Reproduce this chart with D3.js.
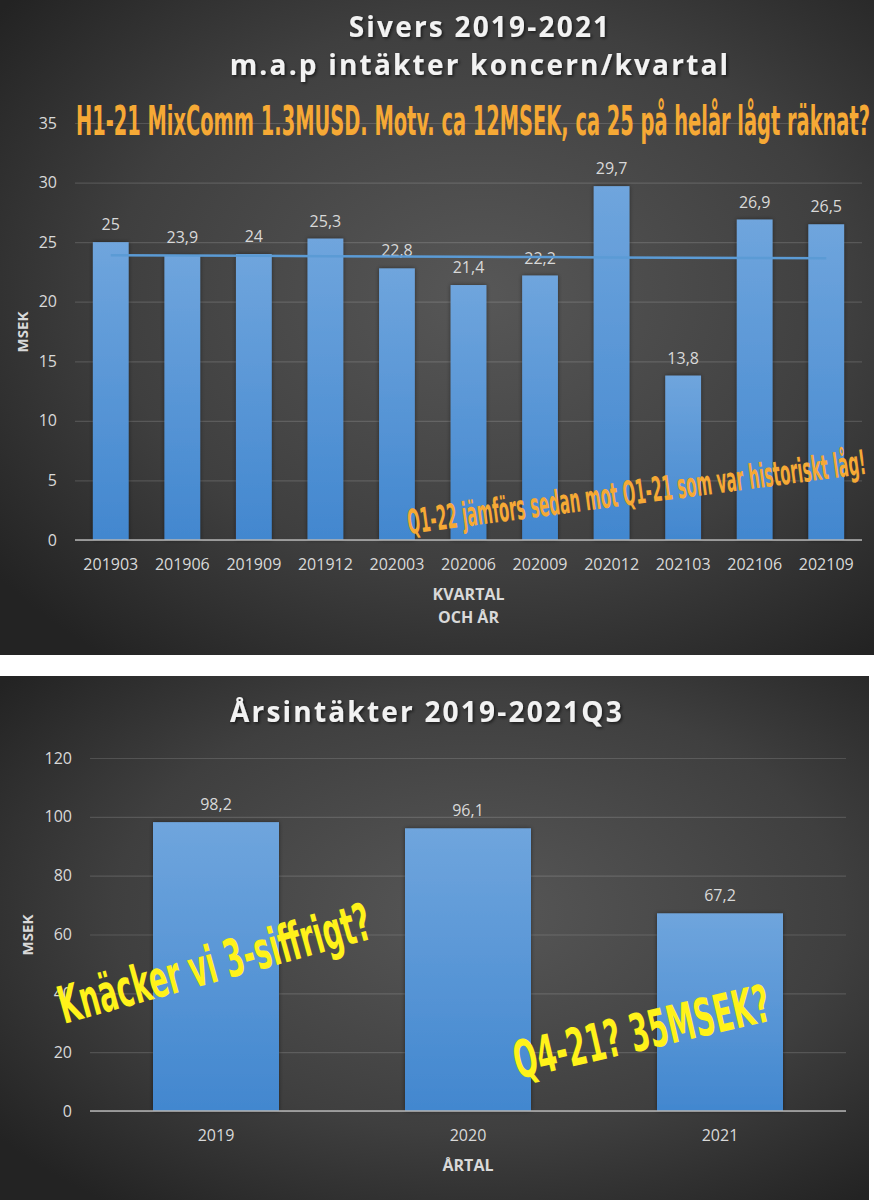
<!DOCTYPE html>
<html>
<head>
<meta charset="utf-8">
<script src="https://cdn.jsdelivr.net/npm/d3@7"></script>
<style>
  html, body { margin: 0; padding: 0; background: #fff; }
  svg { display: block; }
</style>
</head>
<body>
<script>
const width = 874;
const height = 1200;

// quarterly revenue, MSEK
const quarters = ['201903', '201906', '201909', '201912', '202003', '202006', '202009', '202012', '202103', '202106', '202109'];
const quarterValues = [25, 23.9, 24, 25.3, 22.8, 21.4, 22.2, 29.7, 13.8, 26.9, 26.5];
const quarterTicks = [0, 5, 10, 15, 20, 25, 30, 35];

// yearly revenue, MSEK
const years = ['2019', '2020', '2021'];
const yearValues = [98.2, 96.1, 67.2];
const yearTicks = [0, 20, 40, 60, 80, 100, 120];

const sv = d3.formatLocale({ decimal: ',', thousands: ' ', grouping: [3], currency: ['', ' kr'] });
const fmt = v => sv.format(',')(v);

const labelFont = '"Open Sans", "DejaVu Sans", sans-serif';
const scribbleFont = '"Liberation Sans Narrow", "DejaVu Sans Condensed", "Liberation Sans", sans-serif';
const textColor = '#d9d9d9';

const svg = d3.select('body')
  .append('svg')
  .attr('width', width)
  .attr('height', height)
  .attr('viewBox', [0, 0, width, height]);

const defs = svg.append('defs');

const bg = defs.append('radialGradient')
  .attr('id', 'bg')
  .attr('cx', '55%').attr('cy', '45%').attr('r', '70%');
bg.append('stop').attr('offset', '0%').attr('stop-color', '#575757');
bg.append('stop').attr('offset', '60%').attr('stop-color', '#3f3f3f');
bg.append('stop').attr('offset', '100%').attr('stop-color', '#232323');

const barFill = defs.append('linearGradient')
  .attr('id', 'bar')
  .attr('x1', 0).attr('y1', 0).attr('x2', 0).attr('y2', 1);
barFill.append('stop').attr('offset', '0%').attr('stop-color', '#6fa5dd');
barFill.append('stop').attr('offset', '100%').attr('stop-color', '#4287cf');

defs.append('filter')
  .attr('id', 'shadow')
  .attr('x', '-20%').attr('y', '-20%').attr('width', '140%').attr('height', '140%')
  .append('feDropShadow')
  .attr('dx', 1.5).attr('dy', 1.5).attr('stdDeviation', 1.5)
  .attr('flood-color', '#000').attr('flood-opacity', 0.6);

defs.append('filter')
  .attr('id', 'barShadow')
  .attr('x', '-20%').attr('y', '-5%').attr('width', '140%').attr('height', '110%')
  .append('feDropShadow')
  .attr('dx', 0).attr('dy', 0).attr('stdDeviation', 2)
  .attr('flood-color', '#000').attr('flood-opacity', 0.45);

// panels
svg.append('rect').attr('x', 0).attr('y', 0).attr('width', 874).attr('height', 655).attr('fill', 'url(#bg)');
svg.append('rect').attr('x', 0).attr('y', 676).attr('width', 869).attr('height', 524).attr('fill', 'url(#bg)');

function title(lines, cx, y0, dy) {
  svg.append('g')
    .attr('filter', 'url(#shadow)')
    .selectAll('text')
    .data(lines)
    .join('text')
      .attr('x', cx)
      .attr('y', (d, i) => y0 + i * dy)
      .attr('text-anchor', 'middle')
      .attr('fill', '#f2f2f2')
      .style('font', `700 28px ${labelFont}`)
      .style('letter-spacing', '2.2px')
      .text(d => d);
}

function barChart({ cats, vals, ticks, x, y, yTitleX, yTitleY, xTitle, xTitleY }) {
  const x0 = x.range()[0], x1 = x.range()[1];

  const yAxis = svg.append('g')
    .attr('transform', `translate(${x0},0)`)
    .call(d3.axisLeft(y).tickValues(ticks).tickSize(-(x1 - x0)).tickPadding(18).tickFormat(fmt));
  yAxis.select('.domain').remove();
  yAxis.selectAll('.tick line').attr('stroke', '#ffffff').attr('stroke-opacity', 0.14).attr('stroke-width', 1.2);
  yAxis.selectAll('.tick text').attr('fill', textColor).style('font', `400 16px ${labelFont}`);

  svg.append('g')
    .selectAll('rect')
    .data(vals)
    .join('rect')
      .attr('x', (d, i) => x(cats[i]))
      .attr('y', d => y(d))
      .attr('width', x.bandwidth())
      .attr('height', d => y(0) - y(d))
      .attr('fill', 'url(#bar)')
      .attr('filter', 'url(#barShadow)');

  svg.append('line')
    .attr('x1', x0).attr('x2', x1)
    .attr('y1', y(0)).attr('y2', y(0))
    .attr('stroke', '#b5b5b5').attr('stroke-width', 1.5);

  const xAxis = svg.append('g')
    .attr('transform', `translate(0,${y(0)})`)
    .call(d3.axisBottom(x).tickSize(0).tickPadding(19));
  xAxis.select('.domain').remove();
  xAxis.selectAll('.tick text').attr('fill', textColor).style('font', `400 16px ${labelFont}`);

  svg.append('g')
    .selectAll('text')
    .data(vals)
    .join('text')
      .attr('x', (d, i) => x(cats[i]) + x.bandwidth() / 2)
      .attr('y', d => y(d) - 12)
      .attr('text-anchor', 'middle')
      .attr('fill', textColor)
      .style('font', `400 16px ${labelFont}`)
      .text(fmt);

  svg.append('text')
    .attr('transform', `translate(${yTitleX},${yTitleY}) rotate(-90)`)
    .attr('text-anchor', 'middle')
    .attr('fill', textColor)
    .style('font', `700 15px ${labelFont}`)
    .text('MSEK');

  svg.append('g')
    .selectAll('text')
    .data(xTitle)
    .join('text')
      .attr('x', (x0 + x1) / 2)
      .attr('y', (d, i) => xTitleY + i * 23)
      .attr('text-anchor', 'middle')
      .attr('fill', textColor)
      .style('font', `700 16px ${labelFont}`)
      .text(d => d);
}

function scribble(txt, x, y, angle, size, len, color) {
  svg.append('text')
    .attr('transform', `translate(${x},${y}) rotate(${angle})`)
    .attr('fill', color)
    .attr('textLength', len)
    .attr('lengthAdjust', 'spacingAndGlyphs')
    .style('font', `700 ${size}px ${scribbleFont}`)
    .text(txt);
}

// ---- top chart: per quarter
title(['Sivers 2019-2021', 'm.a.p intäkter koncern/kvartal'], 480, 37, 38);

const xq = d3.scaleBand().domain(quarters).range([75, 862]).paddingInner(0.5).paddingOuter(0.25);
const yq = d3.scaleLinear().domain([0, 35]).range([540, 123]);

barChart({
  cats: quarters, vals: quarterValues, ticks: quarterTicks, x: xq, y: yq,
  yTitleX: 28, yTitleY: 332, xTitle: ['KVARTAL', 'OCH ÅR'], xTitleY: 600
});

// linear trend line (least squares over the quarters)
const idx = quarterValues.map((d, i) => i + 1);
const mx = d3.mean(idx), my = d3.mean(quarterValues);
const slope = d3.sum(idx, (d, i) => (d - mx) * (quarterValues[i] - my)) / d3.sum(idx, d => (d - mx) ** 2);
const trend = idx.map(d => my + slope * (d - mx));

svg.append('path')
  .datum(trend)
  .attr('fill', 'none')
  .attr('stroke', '#5b9bd5')
  .attr('stroke-width', 2.5)
  .attr('d', d3.line()
    .x((d, i) => xq(quarters[i]) + xq.bandwidth() / 2)
    .y(d => yq(d)));

scribble('H1-21 MixComm 1.3MUSD. Motv. ca 12MSEK, ca 25 på helår lågt räknat?', 76, 135, 0, 40, 794, '#f6a935');
scribble('Q1-22 jämförs sedan mot Q1-21 som var historiskt låg!', 409, 534, -7.5, 34, 462, '#f6a935');

// ---- bottom chart: per year
title(['Årsintäkter 2019-2021Q3'], 427, 722, 0);

const xy = d3.scaleBand().domain(years).range([90, 846]).paddingInner(0.5).paddingOuter(0.25);
const yy = d3.scaleLinear().domain([0, 120]).range([1111, 758]);

barChart({
  cats: years, vals: yearValues, ticks: yearTicks, x: xy, y: yy,
  yTitleX: 33, yTitleY: 935, xTitle: ['ÅRTAL'], xTitleY: 1171
});

scribble('Knäcker vi 3-siffrigt?', 64, 1024, -15.5, 52, 322, '#fff21a');
scribble('Q4-21? 35MSEK?', 518, 1079, -13, 52, 262, '#fff21a');
</script>
</body>
</html>
